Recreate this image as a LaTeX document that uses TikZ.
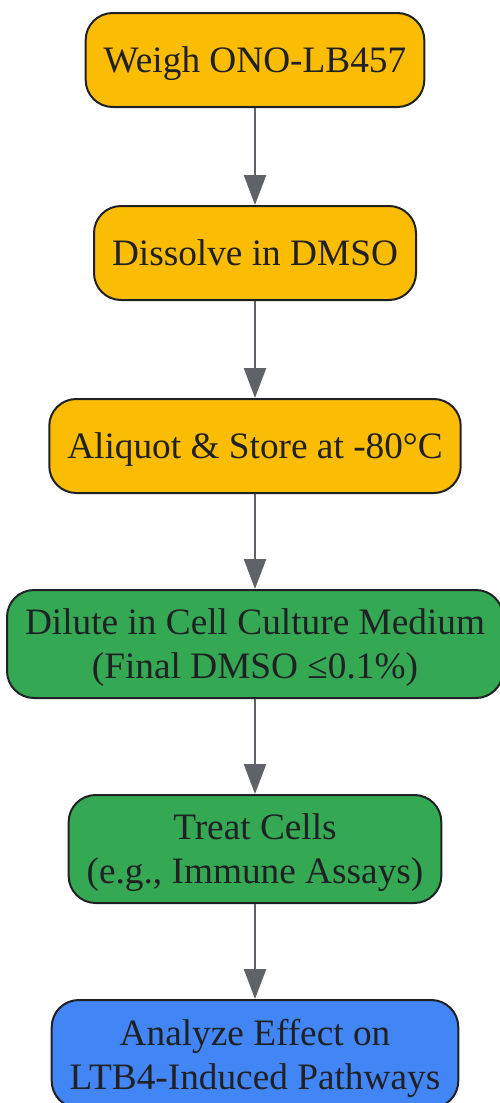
\documentclass[tikz,border=0pt]{standalone}
\usepackage{fontspec}
\setmainfont{Liberation Serif}
\usetikzlibrary{positioning,arrows.meta}
\definecolor{prepyellow}{HTML}{FBBC04}
\definecolor{cellgreen}{HTML}{34A853}
\definecolor{readblue}{HTML}{4285F4}
\definecolor{edgegray}{HTML}{5F6368}
\definecolor{inkdark}{HTML}{202124}

\begin{document}
\begin{tikzpicture}[
x=1pt, y=-1pt,
stage/.style={
    draw=inkdark,
    line width=2pt,
    rounded corners=27pt,
    inner xsep=18pt,
    minimum height=94pt,
    text depth=0pt,
    align=center,
    text=inkdark,
    font=\fontsize{37.3}{44}\selectfont
},
prep/.style={stage, fill=prepyellow},
cell/.style={stage, fill=cellgreen, minimum height=108pt},
read/.style={stage, fill=readblue, minimum height=108pt},
flow/.style={->, draw=edgegray, line width=2.5pt},
node distance=97pt,
>={Triangle[length=30pt,width=22pt]}
]
\useasboundingbox (0,0) rectangle (499,1103);

\node[prep] (weigh) at (255,60) {Weigh ONO-LB457};
\node[prep, below=of weigh] (dissolve) {Dissolve in DMSO};
\node[prep, below=of dissolve] (aliquot) {Aliquot \& Store at -80°C};
\node[cell, below=95pt of aliquot] (dilute) {Dilute in Cell Culture Medium\\(Final DMSO ≤0.1\%)};
\node[cell, below=95pt of dilute] (treat) {Treat Cells\\(e.g., Immune Assays)};
\node[read, below=95pt of treat] (analyze) {Analyze Effect on\\LTB4-Induced Pathways};

\foreach \from/\to in {weigh/dissolve,dissolve/aliquot,aliquot/dilute,dilute/treat,treat/analyze}
\draw[flow] (\from) -- (\to);
\end{tikzpicture}
\end{document}
